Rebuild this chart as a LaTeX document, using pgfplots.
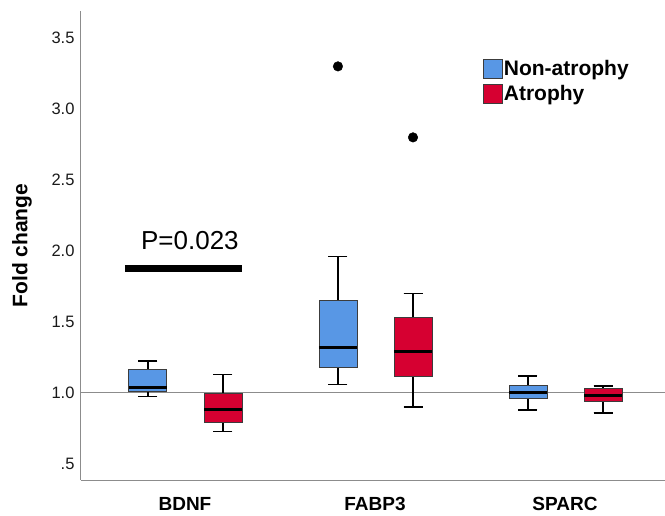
\documentclass[border=0pt]{standalone}
\usepackage{pgfplots}
\pgfplotsset{compat=1.18}
\usepgfplotslibrary{statistics}
\usepackage{fontspec}
\setmainfont{Liberation Sans}
\definecolor{bluebox}{RGB}{88,151,229}
\definecolor{redbox}{RGB}{214,0,49}
\definecolor{axgray}{RGB}{140,140,140}
\definecolor{edgegray}{RGB}{60,60,60}
\begin{document}
\begin{tikzpicture}
\begin{axis}[
  scale only axis, width=584pt, height=469pt,
  xmin=-0.547, xmax=2.526, ymin=0.387, ymax=3.69,
  axis x line*=bottom, axis y line*=left,
  axis line style={axgray, line width=1pt, -},
  major tick length=0pt,
  xtick={0,1,2}, xticklabels={BDNF,FABP3,SPARC},
  ytick={0.5,1.0,1.5,2.0,2.5,3.0,3.5},
  yticklabels={.5,1.0,1.5,2.0,2.5,3.0,3.5},
  /pgf/number format/assume math mode=true,
  xticklabel style={font=\bfseries\fontsize{19}{21}\selectfont, yshift=-14pt},
  yticklabel style={font=\fontsize{16.5}{18}\selectfont, text=black!90, xshift=-3pt},
  ylabel={Fold change},
  ylabel style={font=\bfseries\fontsize{21}{23}\selectfont, at={(axis description cs:-0.101,0.5)}, anchor=center},
  boxplot/draw direction=y,
  boxplot/box extend=0.2,
  boxplot/whisker extend=0.1,
  boxplot/every box/.style={draw=edgegray, line width=0.8pt},
  boxplot/every median/.style={black, line width=3pt},
  boxplot/every whisker/.style={black, line width=1.4pt},
  legend style={at={(rel axis cs:0.683,0.903)}, anchor=north west, draw=none, fill=none,
    font=\bfseries\fontsize{21}{23}\selectfont, row sep=5.5pt,
    nodes={inner sep=1pt}},
  legend cell align=left,
  legend image code/.code={\draw[#1] (0pt,-9.5pt) rectangle (19pt,9.5pt);},
  clip=false,
]
\addlegendimage{fill=bluebox, draw=edgegray, line width=0.8pt}
\addlegendentry{Non-atrophy}
\addlegendimage{fill=redbox, draw=edgegray, line width=0.8pt}
\addlegendentry{Atrophy}

% reference line
\addplot[axgray, line width=1pt, forget plot] coordinates {(-0.547,1.0) (2.526,1.0)};

% BDNF
\addplot[fill=bluebox, forget plot, boxplot prepared={draw position=-0.195,
  lower whisker=0.975, lower quartile=1.01, median=1.035, upper quartile=1.165, upper whisker=1.225}] coordinates {};
\addplot[fill=redbox, forget plot, boxplot prepared={draw position=0.2,
  lower whisker=0.73, lower quartile=0.79, median=0.88, upper quartile=1.0, upper whisker=1.13}] coordinates {};
% FABP3
\addplot[fill=bluebox, forget plot, boxplot prepared={draw position=0.805,
  lower whisker=1.06, lower quartile=1.18, median=1.32, upper quartile=1.655, upper whisker=1.96}] coordinates {};
\addplot[fill=redbox, forget plot, boxplot prepared={draw position=1.2,
  lower whisker=0.90, lower quartile=1.12, median=1.29, upper quartile=1.535, upper whisker=1.70}] coordinates {};
% SPARC
\addplot[fill=bluebox, forget plot, boxplot prepared={draw position=1.805,
  lower whisker=0.88, lower quartile=0.965, median=1.0, upper quartile=1.055, upper whisker=1.12}] coordinates {};
\addplot[fill=redbox, forget plot, boxplot prepared={draw position=2.2,
  lower whisker=0.86, lower quartile=0.94, median=0.985, upper quartile=1.03, upper whisker=1.05}] coordinates {};

% outliers
\addplot[only marks, mark=*, mark size=4.8pt, black, forget plot] coordinates {(0.805,3.30) (1.2,2.80)};

% significance bar
\addplot[black, line width=7pt, forget plot] coordinates {(-0.316,1.88) (0.3,1.88)};
\node[font=\fontsize{26}{28}\selectfont] at (axis cs:0.026,2.07) {P=0.023};
\end{axis}
\pgfresetboundingbox
\path[use as bounding box] (-81pt,-35pt) rectangle (584pt,480pt);
\end{tikzpicture}
\end{document}
